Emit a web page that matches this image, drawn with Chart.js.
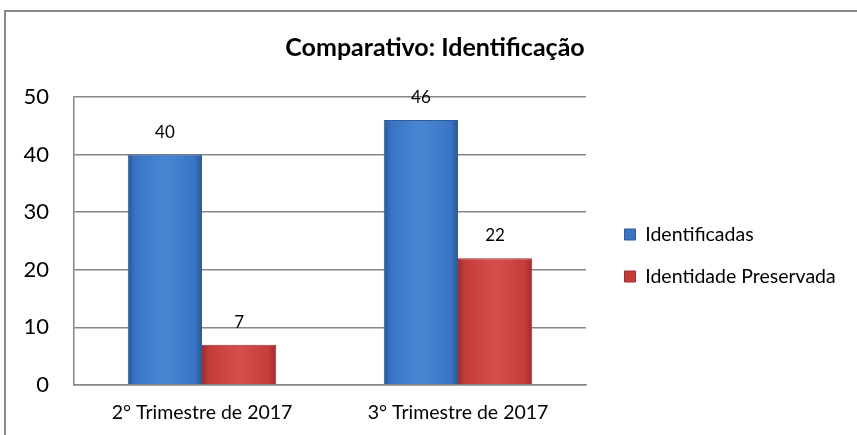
<!DOCTYPE html>
<html><head><meta charset="utf-8">
<script src="https://cdn.jsdelivr.net/npm/chart.js@4/dist/chart.umd.min.js"></script>
<style>
html,body{margin:0;padding:0;background:#fff;}
#wrap{position:relative;width:857px;height:435px;overflow:hidden;}
#frame{position:absolute;left:4px;top:10px;width:900px;height:500px;border:2px solid #8a8a8a;box-sizing:border-box;}
canvas{position:absolute;left:0;top:0;}
</style></head>
<body><div id="wrap"><div id="frame"></div><canvas id="c" width="857" height="435"></canvas></div>
<script>
const categories = ["2° Trimestre de 2017", "3° Trimestre de 2017"];
const identificadas = [40, 46];
const preservada = [7, 22];
const seriesNames = ["Identificadas", "Identidade Preservada"];
const yTicks = [0, 10, 20, 30, 40, 50];
const chartTitle = "Comparativo: Identificação";

const FONT = "Lato, 'Liberation Sans', sans-serif";

const shades = [
  { dark: '#2a5895', mid: '#3a75c4', light: '#4987d3' },
  { dark: '#992d2c', mid: '#c53d3b', light: '#d54f4c' }
];

const barShading = {
  id: 'barShading',
  beforeDatasetsDraw(chart) {
    const ctx = chart.ctx;
    chart.data.datasets.forEach((ds, di) => {
      const s = shades[di];
      chart.getDatasetMeta(di).data.forEach(el => {
        const x0 = el.x - el.width / 2, x1 = el.x + el.width / 2;
        const g = ctx.createLinearGradient(x0, 0, x1, 0);
        g.addColorStop(0, s.dark);
        g.addColorStop(0.1, s.mid);
        g.addColorStop(0.5, s.light);
        g.addColorStop(0.9, s.mid);
        g.addColorStop(1, s.dark);
        el.options = Object.assign({}, el.options, { backgroundColor: g });
      });
    });
  }
};

const valueLabels = {
  id: 'valueLabels',
  afterDatasetsDraw(chart) {
    const ctx = chart.ctx;
    ctx.save();
    ctx.font = "17px " + FONT;
    ctx.fillStyle = "#000";
    ctx.textAlign = "center";
    ctx.textBaseline = "alphabetic";
    chart.data.datasets.forEach((ds, di) => {
      const meta = chart.getDatasetMeta(di);
      meta.data.forEach((bar, i) => {
        ctx.fillText(String(ds.data[i]), bar.x, bar.y - 17);
      });
    });
    ctx.restore();
  }
};

const legendShift = {
  id: 'legendShift',
  afterLayout(chart) {
    const lg = chart.legend;
    if (!lg) return;
    const dx = 16, dy = 38;
    lg.left += dx; lg.right += dx;
    lg.top += dy; lg.bottom += dy;
  }
};

const chart = new Chart(document.getElementById('c'), {
  type: 'bar',
  data: {
    labels: categories,
    datasets: [
      { label: seriesNames[0], data: identificadas,
        backgroundColor: (c) => shades[0].mid,
        borderColor: '#2d5d9a', borderWidth: 1 },
      { label: seriesNames[1], data: preservada,
        backgroundColor: (c) => shades[1].mid,
        borderColor: '#9c2f2d', borderWidth: 1 }
    ]
  },
  options: {
    responsive: false,
    animation: false,
    devicePixelRatio: 1,
    layout: { padding: { left: 13, right: 0, top: 0, bottom: 0 } },
    datasets: { bar: { categoryPercentage: 0.58, barPercentage: 1.0 } },
    scales: {
      x: {
        grid: { display: false, drawTicks: false },
        border: { display: true, color: '#868686', width: 1.5 },
        ticks: { color: '#000', font: { family: FONT, size: 19.5 }, padding: 16 },
        afterFit(s) { s.height = 50; }
      },
      y: {
        min: 0, max: 50,
        afterBuildTicks(s) { s.ticks = yTicks.map(v => ({ value: v })); },
        grid: { color: '#868686', lineWidth: 1.5, drawTicks: false },
        border: { display: true, color: '#868686', width: 1.5 },
        ticks: { color: '#000', font: { family: FONT, size: 22 }, padding: 25 },
        afterFit(s) { s.width = 61; }
      }
    },
    plugins: {
      title: {
        display: true, text: chartTitle, color: '#000',
        font: { family: FONT, size: 25, weight: 'bold', lineHeight: 1.2 },
        padding: { top: 33, bottom: 34 }
      },
      legend: {
        position: 'right',
        align: 'center',
        labels: {
          color: '#000', font: { family: FONT, size: 19.5 },
          boxWidth: 11, boxHeight: 11, padding: 22.5
        }
      },
      tooltip: { enabled: false }
    }
  },
  plugins: [barShading, valueLabels, legendShift]
});
const lgBox = chart.legend;
const origFit = lgBox.fit;
lgBox.fit = function() { origFit.call(this); this.width = 271; };
chart.update();
</script>
</body></html>
